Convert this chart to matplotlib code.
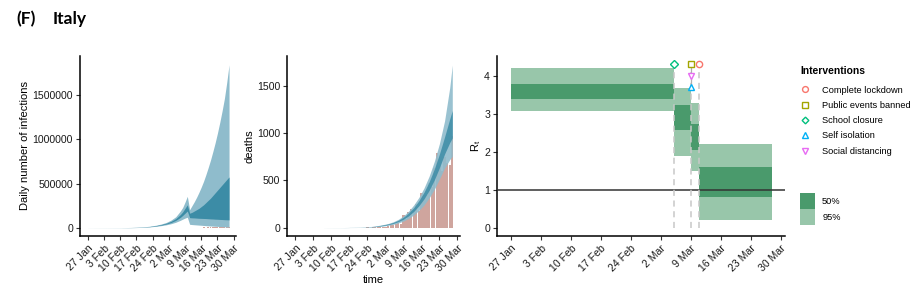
import numpy as np
import pandas as pd
import matplotlib
matplotlib.use("Agg")
import matplotlib.pyplot as plt
from matplotlib.lines import Line2D
from matplotlib.patches import Patch

plt.rcParams['font.family'] = ['Liberation Sans', 'DejaVu Sans']

# ---- data ----
# daily infections, model bands (in thousands)
inf_dates = ['2020-01-27', '2020-02-03', '2020-02-10', '2020-02-17', '2020-02-20', '2020-02-23',
             '2020-02-26', '2020-02-28', '2020-03-01', '2020-03-03', '2020-03-05', '2020-03-07',
             '2020-03-08', '2020-03-09', '2020-03-10', '2020-03-11', '2020-03-12', '2020-03-13',
             '2020-03-14', '2020-03-15', '2020-03-16', '2020-03-17', '2020-03-18', '2020-03-19',
             '2020-03-20', '2020-03-21', '2020-03-22', '2020-03-23', '2020-03-24', '2020-03-25',
             '2020-03-26', '2020-03-27', '2020-03-28']
inf_hi95 = [0.5, 1, 2, 6, 11, 19, 32, 45, 62, 88, 125, 190, 230, 290, 356, 205, 250, 295,
            345, 400, 460, 525, 600, 680, 765, 860, 960, 1070, 1190, 1320, 1460, 1640, 1840]
inf_hi50 = [0.4, 0.8, 1.7, 5, 9.5, 16, 28, 39, 53, 74, 104, 150, 180, 220, 260, 165, 175, 190,
            205, 220, 240, 260, 285, 310, 335, 365, 395, 425, 455, 485, 515, 545, 575]
inf_lo50 = [0.3, 0.6, 1.4, 4, 8, 14, 24, 33, 44, 60, 84, 118, 140, 165, 190, 115, 113, 112,
            110, 108, 107, 106, 105, 103, 101, 100, 98, 97, 95, 94, 92, 91, 90]
inf_lo95 = [0.2, 0.4, 1, 3, 6, 11, 19, 26, 35, 47, 63, 85, 98, 110, 120, 40, 37, 35,
            33, 31, 29, 27, 25, 23, 21, 20, 18, 17, 15, 14, 12, 11, 10]

# reported cases / deaths per day
obs_dates = pd.date_range('2020-02-22', '2020-03-28').strftime('%Y-%m-%d').tolist()
cases = [17, 58, 78, 72, 94, 147, 185, 234, 239, 573, 335, 466, 587, 769, 778, 1247, 1492,
         1797, 977, 2313, 2651, 2547, 3497, 2823, 4000, 3526, 4207, 5322, 5986, 6557, 5560,
         4789, 5249, 5210, 6153, 5959]
deaths = [1, 1, 4, 1, 5, 2, 5, 4, 8, 5, 18, 27, 28, 41, 49, 36, 133, 97, 168, 196, 189, 250,
          175, 368, 349, 345, 475, 427, 627, 793, 651, 601, 743, 683, 662, 969]

# deaths, model bands
dth_dates = ['2020-02-07', '2020-02-14', '2020-02-21', '2020-02-24', '2020-02-27', '2020-03-01',
             '2020-03-03', '2020-03-05', '2020-03-07', '2020-03-09', '2020-03-11', '2020-03-13',
             '2020-03-15', '2020-03-17', '2020-03-19', '2020-03-21', '2020-03-23', '2020-03-25',
             '2020-03-27', '2020-03-28']
dth_hi95 = [0.5, 1.5, 4, 9, 17, 32, 44, 62, 88, 125, 175, 240, 320, 420, 545, 700, 890, 1130, 1480, 1720]
dth_hi50 = [0.4, 1.2, 3.5, 8, 15, 28, 39, 55, 78, 110, 155, 212, 285, 375, 485, 620, 780, 960, 1150, 1240]
dth_lo50 = [0.3, 1, 3, 6.5, 12, 22, 32, 45, 64, 90, 125, 172, 232, 305, 395, 505, 635, 780, 900, 950]
dth_lo95 = [0.2, 0.7, 2, 5, 9, 17, 25, 35, 50, 70, 98, 135, 182, 240, 315, 405, 515, 630, 720, 755]

# R_t piecewise constant
rt_start = ['2020-01-27', '2020-03-05', '2020-03-09', '2020-03-11']
rt_end = ['2020-03-05', '2020-03-09', '2020-03-11', '2020-03-28']
rt_hi95 = [4.21, 3.67, 3.30, 2.20]
rt_lo95 = [3.08, 1.90, 1.51, 0.22]
rt_hi50 = [3.78, 3.23, 2.73, 1.61]
rt_lo50 = [3.40, 2.59, 2.05, 0.83]

interventions = ['Complete lockdown', 'Public events banned', 'School closure',
                 'Self isolation', 'Social distancing']
int_dates = ['2020-03-11', '2020-03-09', '2020-03-05', '2020-03-09', '2020-03-09']
int_y = [4.31, 4.31, 4.31, 3.71, 4.0]
int_marker = ['o', 's', 'D', '^', 'v']
int_color = ['#F8766D', '#A3A500', '#00BF7D', '#00B0F6', '#E76BF3']

tick_dates = pd.date_range('2020-01-27', '2020-03-30', freq='7D')
tick_labels = [f"{d.day} {d.strftime('%b')}" for d in tick_dates]

light_blue = '#8fbccc'
dark_blue = '#3c8ca6'
bar_col = '#cfa59e'
light_green = '#98c6aa'
dark_green = '#4a9a6c'

xmin = pd.Timestamp('2020-01-27') - pd.Timedelta(days=3.3)
xmax = pd.Timestamp('2020-03-30') + pd.Timedelta(days=1.0)


def style(ax):
    for s in ['top', 'right']:
        ax.spines[s].set_visible(False)
    for s in ['left', 'bottom']:
        ax.spines[s].set_linewidth(1.1)
        ax.spines[s].set_color('black')
    ax.set_xlim(xmin, xmax)
    ax.set_xticks(tick_dates)
    ax.set_xticklabels(tick_labels, rotation=45, ha='right', rotation_mode='anchor')
    ax.tick_params(axis='both', labelsize=7.6, length=3, width=0.8, color='#333333',
                   labelcolor='#1a1a1a', pad=2)
    ax.set_facecolor('none')


fig = plt.figure(figsize=(9.21, 2.87), dpi=100)
fig.text(16 / 921, 1 - 19 / 287, '(F)', fontsize=12.5, fontweight='bold', family='Lato', va='center')
fig.text(53 / 921, 1 - 19 / 287, 'Italy', fontsize=12.5, fontweight='bold', family='Lato', va='center')

bot = 51 / 287
hgt = 180 / 287

# panel 1: infections
ax1 = fig.add_axes([80 / 921, bot, 156 / 921, hgt])
d = pd.to_datetime(inf_dates)
ax1.bar(pd.to_datetime(obs_dates), cases, width=0.85, color=bar_col, linewidth=0)
ax1.fill_between(d, np.array(inf_lo95) * 1000, np.array(inf_hi95) * 1000, color=light_blue, lw=0)
ax1.fill_between(d, np.array(inf_lo50) * 1000, np.array(inf_hi50) * 1000, color=dark_blue, lw=0)
ax1.set_ylim(-92000, 1.94e6)
ax1.set_yticks([0, 500000, 1000000, 1500000])
ax1.set_yticklabels(['0', '500000', '1000000', '1500000'])
ax1.set_ylabel('Daily number of infections', fontsize=8, labelpad=2)
style(ax1)

# panel 2: deaths
ax2 = fig.add_axes([287 / 921, bot, 173 / 921, hgt])
ax2.bar(pd.to_datetime(obs_dates), deaths, width=0.85, color=bar_col, linewidth=0)
d = pd.to_datetime(dth_dates)
ax2.fill_between(d, dth_lo95, dth_hi95, color=light_blue, alpha=0.9, lw=0)
ax2.fill_between(d, dth_lo50, dth_hi50, color=dark_blue, alpha=0.85, lw=0)
ax2.set_ylim(-88, 1816)
ax2.set_yticks([0, 500, 1000, 1500])
ax2.set_ylabel('deaths', fontsize=8, labelpad=2)
ax2.set_xlabel('time', fontsize=8, labelpad=1)
style(ax2)

# panel 3: R_t
ax3 = fig.add_axes([497 / 921, bot, 288 / 921, hgt])
s = pd.to_datetime(rt_start)
w = (pd.to_datetime(rt_end) - s).days
ax3.bar(s, np.array(rt_hi95) - np.array(rt_lo95), width=w, bottom=rt_lo95, align='edge',
        color=light_green, linewidth=0)
ax3.bar(s, np.array(rt_hi50) - np.array(rt_lo50), width=w, bottom=rt_lo50, align='edge',
        color=dark_green, linewidth=0)
ax3.axhline(1, color='#333333', lw=1.1, zorder=3)
for dt, yv in zip(['2020-03-05', '2020-03-09', '2020-03-11'], [4.31, 4.31, 4.31]):
    ax3.vlines(pd.Timestamp(dt), 0, yv, colors='#c8c8c8', linestyles=(0, (4, 3)), lw=1.1, zorder=4)
ax3.vlines(pd.Timestamp('2020-03-09'), 3.71, 4.31, colors='#b0b0b0', lw=0.9, zorder=4)
for name, dt, yv, m, c in zip(interventions, int_dates, int_y, int_marker, int_color):
    ax3.plot(pd.Timestamp(dt), yv, marker=m, ms=4.5 if m != 'D' else 3.6, mfc='white', mec=c,
             mew=1.0, ls='none', zorder=5, clip_on=False)
ax3.set_ylim(-0.2, 4.52)
ax3.set_yticks([0, 1, 2, 3, 4])
ax3.set_ylabel(r'$\mathregular{R_t}$', fontsize=8, labelpad=1)
style(ax3)

# legends
h1 = [Line2D([], [], marker=m, ms=4.2 if m != 'D' else 3.4, mfc='white', mec=c, mew=1.0, ls='none')
      for m, c in zip(int_marker, int_color)]
leg1 = fig.legend(h1, interventions, loc='upper left', bbox_to_anchor=(798 / 921, 1 - 63 / 287),
                  frameon=False, fontsize=6.7, title='Interventions', handlelength=1.0,
                  handletextpad=1.3, labelspacing=0.68, alignment='left', borderaxespad=0,
                  borderpad=0.3)
leg1.get_title().set_fontweight('bold')
leg1.get_title().set_fontsize(7.4)
leg1._legend_box.sep = 7
h2 = [Patch(facecolor=dark_green, edgecolor='none'), Patch(facecolor=light_green, edgecolor='none')]
fig.legend(h2, ['50%', '95%'], loc='upper left', bbox_to_anchor=(797 / 921, 1 - 190 / 287),
           frameon=False, fontsize=6.7, handlelength=1.65, handleheight=2.25, handletextpad=0.75,
           labelspacing=0.0, borderaxespad=0, borderpad=0.3)

fig.savefig('out.png', dpi=100)
